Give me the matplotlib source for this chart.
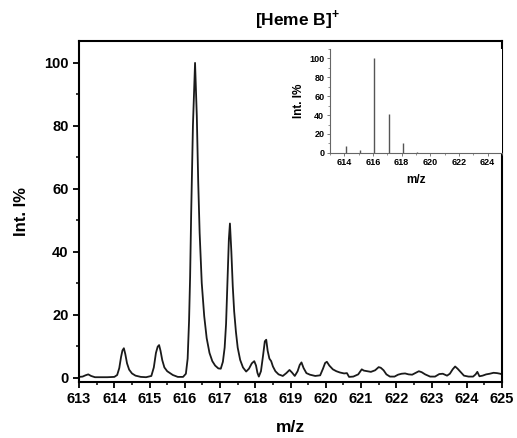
import matplotlib
matplotlib.use("Agg")
import matplotlib.pyplot as plt
from matplotlib.ticker import MultipleLocator

plt.rcParams["font.family"] = ["Liberation Sans", "DejaVu Sans"]
plt.rcParams["font.weight"] = "bold"
plt.rcParams["mathtext.fontset"] = "custom"
plt.rcParams["mathtext.rm"] = "Liberation Sans:bold"
plt.rcParams["mathtext.bf"] = "Liberation Sans:bold"

mz = [613.0, 613.1, 613.18, 613.26, 613.34, 613.45, 613.6, 613.8, 614.0, 614.08,
      614.14, 614.19, 614.23, 614.27, 614.31, 614.36, 614.42, 614.5, 614.6, 614.75,
      614.9, 615.05, 615.12, 615.18, 615.23, 615.27, 615.31, 615.36, 615.42, 615.5,
      615.58, 615.66, 615.8, 615.95, 616.03, 616.08, 616.12, 616.15, 616.18, 616.23,
      616.29, 616.34, 616.38, 616.42, 616.48, 616.55, 616.62, 616.7, 616.78, 616.86,
      616.95, 617.02, 617.08, 617.13, 617.17, 617.21, 617.25, 617.28, 617.32, 617.36,
      617.4, 617.45, 617.5, 617.57, 617.65, 617.74, 617.82, 617.9, 617.97, 618.02,
      618.06, 618.1, 618.16, 618.22, 618.27, 618.31, 618.35, 618.4, 618.45, 618.5,
      618.57, 618.66, 618.78, 618.88, 618.97, 619.04, 619.12, 619.2, 619.26, 619.31,
      619.37, 619.45, 619.55, 619.7, 619.84, 619.92, 619.98, 620.03, 620.1, 620.2,
      620.3, 620.4, 620.52, 620.6, 620.66, 620.78, 620.92, 621.02, 621.08, 621.18,
      621.28, 621.4, 621.5, 621.56, 621.64, 621.72, 621.82, 621.95, 622.05, 622.15,
      622.25, 622.35, 622.45, 622.55, 622.64, 622.72, 622.82, 622.96, 623.1, 623.22,
      623.32, 623.44, 623.52, 623.6, 623.67, 623.74, 623.82, 623.92, 624.05, 624.18,
      624.25, 624.3, 624.36, 624.45, 624.55, 624.65, 624.76, 624.86, 624.95, 625.0]
inten = [0.2, 0.3, 0.7, 1.0, 0.5, 0.1, 0.1, 0.1, 0.2, 0.8,
         3.0, 6.5, 8.6, 9.3, 7.5, 4.5, 2.5, 1.3, 0.6, 0.2,
         0.1, 0.5, 3.2, 7.8, 9.8, 10.3, 8.5, 5.5, 3.2, 2.0,
         1.4, 0.8, 0.2, 0.2, 1.2, 6.0, 18.0, 32.0, 52.0, 80.0,
         99.9, 83.0, 62.0, 46.0, 30.0, 19.5, 12.5, 7.8, 5.2, 3.8,
         2.9, 2.8, 5.0, 9.5, 17.0, 31.0, 44.0, 48.9, 40.0, 29.0,
         21.0, 14.5, 9.5, 5.6, 3.2, 1.9, 2.8, 4.5, 5.2, 3.8,
         1.5, 0.3, 2.0, 7.0, 11.5, 12.0, 8.5, 6.0, 5.2, 3.5,
         2.0, 1.0, 0.5, 1.4, 2.4, 1.6, 0.5, 2.0, 4.0, 4.8,
         3.0, 1.4, 0.9, 0.5, 0.7, 2.8, 4.6, 5.0, 3.8, 2.6,
         2.0, 1.6, 1.3, 1.4, 0.2, 0.3, 1.0, 2.6, 2.2, 2.0,
         1.8, 2.3, 3.3, 3.1, 2.3, 1.0, 0.3, 0.3, 0.9, 1.2,
         1.3, 1.0, 0.9, 1.5, 2.0, 1.7, 1.0, 0.3, 0.3, 1.1,
         1.2, 0.6, 1.2, 2.6, 3.5, 2.8, 1.8, 0.6, 0.3, 0.3,
         1.0, 1.8, 0.4, 0.6, 1.0, 1.2, 1.5, 1.4, 1.2, 1.0]

# calculated isotope pattern (inset)
iso_mz = [614.1, 615.1, 616.1, 617.1, 618.1, 619.1]
iso_int = [7.0, 2.8, 100.0, 41.0, 10.0, 1.0]

fig = plt.figure(figsize=(5.17, 4.38), dpi=100)
ax = fig.add_axes([0.153, 0.128, 0.818, 0.778])
ax.plot(mz, inten, color="#1a1a1a", lw=1.3)
ax.set_xlim(613, 625)
ax.set_ylim(-1.4, 106.8)
ax.xaxis.set_major_locator(MultipleLocator(1))
ax.xaxis.set_minor_locator(MultipleLocator(0.5))
ax.yaxis.set_major_locator(MultipleLocator(20))
ax.yaxis.set_minor_locator(MultipleLocator(10))
ax.tick_params(which="major", direction="out", length=4.5, width=1.3, labelsize=10.5, pad=3)
ax.tick_params(which="minor", direction="out", length=2.5, width=1.1)
for sp in ax.spines.values():
    sp.set_linewidth(1.5)
ax.set_xlabel("m/z", fontsize=12.5, fontweight="bold", labelpad=10)
ax.set_ylabel("Int. I%", fontsize=12, fontweight="bold", labelpad=11)
fig.text(0.576, 0.955, r"[Heme B]$^{+}$", fontsize=12.5, fontweight="bold",
         ha="center", va="center")

ins = fig.add_axes([0.638, 0.651, 0.333, 0.237])
ins.vlines(iso_mz, 0, iso_int, color="#555555", lw=1.0)
ins.set_xlim(613, 625)
ins.set_ylim(0, 110)
ins.spines["top"].set_visible(False)
ins.spines["right"].set_visible(False)
for sp in ("left", "bottom"):
    ins.spines[sp].set_linewidth(0.8)
    ins.spines[sp].set_color("#666666")
ins.xaxis.set_major_locator(MultipleLocator(2))
ins.xaxis.set_minor_locator(MultipleLocator(1))
ins.yaxis.set_major_locator(MultipleLocator(20))
ins.yaxis.set_minor_locator(MultipleLocator(10))
ins.tick_params(which="major", direction="out", length=2, width=0.6, labelsize=6.5, pad=2,
                color="#666666")
ins.tick_params(which="minor", direction="out", length=1.2, width=0.5, color="#666666")
ins.set_xlabel("m/z", fontsize=8.5, fontweight="bold", labelpad=5)
ins.set_ylabel("Int. I%", fontsize=8.5, fontweight="bold", labelpad=3)

fig.savefig("out.png", dpi=100)
